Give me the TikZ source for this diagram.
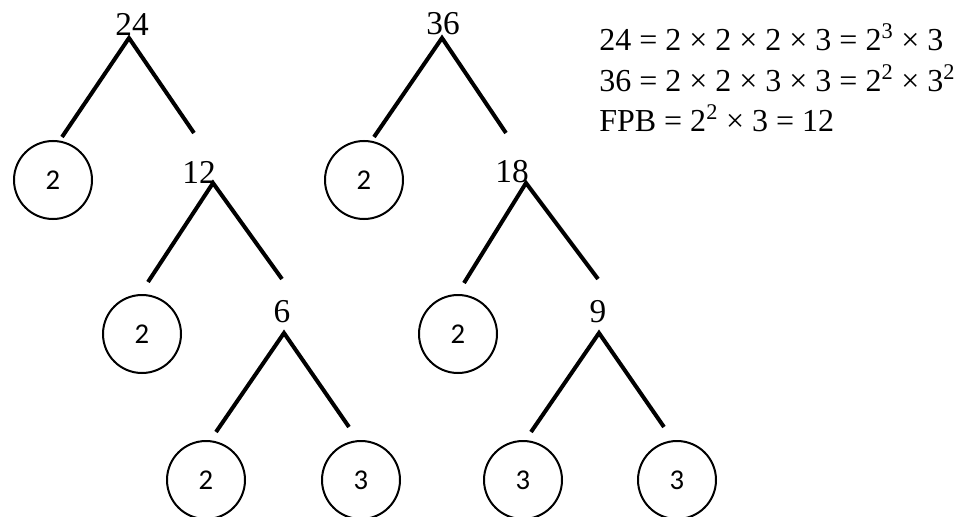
\documentclass[tikz,border=0pt]{standalone}
\usepackage{fontspec}
\setmainfont{Liberation Serif}
\setsansfont{Carlito}
\begin{document}
\begin{tikzpicture}[x=0.75pt,y=-0.75pt,
  num/.style={font=\fontsize{25}{30}\selectfont, inner sep=0pt},
  fac/.style={circle, draw, line width=1.5pt, minimum size=58.5pt, inner sep=0pt,
    font=\sffamily\fontsize{21.5}{26}\selectfont},
  branch/.style={line width=3pt},
  eq/.style={anchor=west, inner sep=0pt, font=\fontsize{24}{29}\selectfont}
]
\useasboundingbox (0,0) rectangle (968,517);
% numbers
\node[num] (n24) at (132,24) {24};
\node[num] (n12) at (199,172) {12};
\node[num] (n6)  at (282,312) {6};
\node[num] (n36) at (443,24) {36};
\node[num] (n18) at (512,172) {18};
\node[num] (n9)  at (598,312) {9};
% factor circles
\node[fac] (c1) at (53,180) {2};
\node[fac] (c2) at (142,334) {2};
\node[fac] (c3) at (206,480) {2};
\node[fac] (c4) at (361,480) {3};
\node[fac] (c5) at (364,180) {2};
\node[fac] (c6) at (458,334) {2};
\node[fac] (c7) at (523,480) {3};
\node[fac] (c8) at (677,480) {3};
% branch coordinates
\coordinate (a24) at (129,38);  \coordinate (l24) at (62,137);  \coordinate (r24) at (194,133);
\coordinate (a12) at (213,183); \coordinate (l12) at (148,282); \coordinate (r12) at (282,279);
\coordinate (a6)  at (284,333); \coordinate (l6)  at (216,432); \coordinate (r6)  at (349,427);
\coordinate (a36) at (442,38);  \coordinate (l36) at (374,137); \coordinate (r36) at (506,133);
\coordinate (a18) at (526,183); \coordinate (l18) at (464,283); \coordinate (r18) at (598,279);
\coordinate (a9)  at (599,333); \coordinate (l9)  at (531,432); \coordinate (r9)  at (664,427);
\draw[branch] (l24) -- (a24) -- (r24);
\draw[branch] (l12) -- (a12) -- (r12);
\draw[branch] (l6) -- (a6) -- (r6);
\draw[branch] (l36) -- (a36) -- (r36);
\draw[branch] (l18) -- (a18) -- (r18);
\draw[branch] (l9) -- (a9) -- (r9);
% equations
\node[eq] (e1) at (599,37) {24 = 2 × 2 × 2 × 3 = 2\textsuperscript{3} × 3};
\node[eq] (e2) at (599,78) {36 = 2 × 2 × 3 × 3 = 2\textsuperscript{2} × 3\textsuperscript{2}};
\node[eq] (e3) at (599,118) {FPB = 2\textsuperscript{2} × 3 = 12};
\end{tikzpicture}
\end{document}
